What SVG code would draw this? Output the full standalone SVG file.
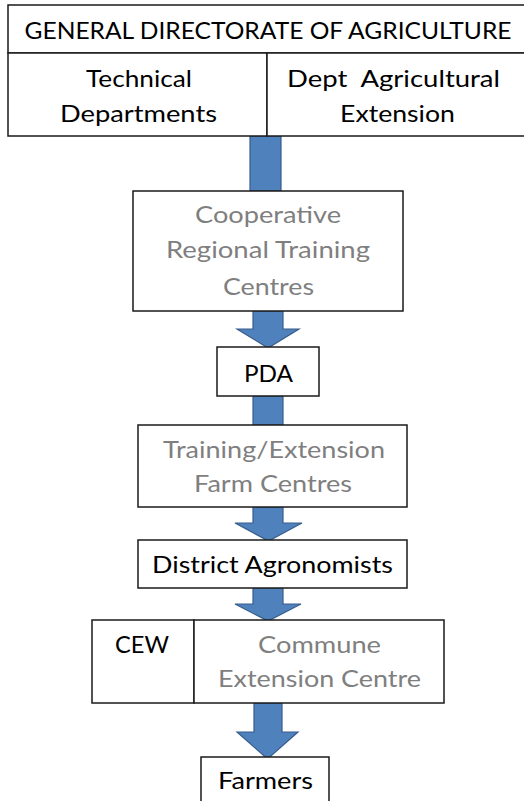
<svg xmlns="http://www.w3.org/2000/svg" width="524" height="801" viewBox="0 0 524 801">
<style>
.box{fill:#fff;stroke:#1a1a1a;stroke-width:1.5}
.arr{fill:#4f81bd;stroke:#385d8a;stroke-width:1.2}
text{font-family:Lato,"Liberation Sans",sans-serif;font-size:23px;text-anchor:middle}
.k{fill:#000}
.g{fill:#7f7f7f}
</style>
<rect width="524" height="801" fill="#fff"/>
<g id="connectors">
<rect class="arr" x="250" y="136" width="31" height="55"/>
<polygon class="arr" points="253,311 283,311 283,329 299,329 268,348 237,329 253,329"/>
<rect class="arr" x="253" y="396" width="30" height="29"/>
<polygon class="arr" points="253,507 283,507 283,523 302,523 268.5,541 235,523 253,523"/>
<polygon class="arr" points="253,588 283,588 283,604 301,604 268,621 235,604 253,604"/>
<polygon class="arr" points="254,703 282,703 282,732 298,732 267.5,759 237,732 254,732"/>
</g>
<g id="gda">
<rect class="box" x="8" y="5" width="520" height="48"/>
<text class="k" x="268" y="39" textLength="487" lengthAdjust="spacingAndGlyphs">GENERAL DIRECTORATE OF AGRICULTURE</text>
</g>
<g id="tech">
<rect class="box" x="8" y="53" width="259" height="83"/>
<text class="k" x="139" y="87" textLength="106" lengthAdjust="spacingAndGlyphs">Technical</text>
<text class="k" x="138.5" y="122" textLength="157" lengthAdjust="spacingAndGlyphs">Departments</text>
</g>
<g id="dae">
<rect class="box" x="267" y="53" width="261" height="83"/>
<text class="k" x="393.5" y="87" textLength="213" lengthAdjust="spacingAndGlyphs" xml:space="preserve">Dept  Agricultural</text>
<text class="k" x="397.5" y="122" textLength="115" lengthAdjust="spacingAndGlyphs">Extension</text>
</g>
<g id="crtc">
<rect class="box" x="133" y="191" width="270" height="120"/>
<text class="g" x="268" y="223" textLength="146" lengthAdjust="spacingAndGlyphs">Cooperative</text>
<text class="g" x="268" y="258" textLength="204" lengthAdjust="spacingAndGlyphs">Regional Training</text>
<text class="g" x="268.5" y="295" textLength="91" lengthAdjust="spacingAndGlyphs">Centres</text>
</g>
<g id="pda">
<rect class="box" x="217" y="347" width="102" height="49"/>
<text class="k" x="268.5" y="382" textLength="49" lengthAdjust="spacingAndGlyphs">PDA</text>
</g>
<g id="tefc">
<rect class="box" x="138" y="425" width="269" height="82"/>
<text class="g" x="274" y="458" textLength="222" lengthAdjust="spacingAndGlyphs">Training/Extension</text>
<text class="g" x="273" y="492" textLength="158" lengthAdjust="spacingAndGlyphs">Farm Centres</text>
</g>
<g id="district">
<rect class="box" x="138" y="540" width="269" height="48"/>
<text class="k" x="272.5" y="573" textLength="241" lengthAdjust="spacingAndGlyphs">District Agronomists</text>
</g>
<g id="cew">
<rect class="box" x="92" y="620" width="102" height="83"/>
<text class="k" x="142" y="653" textLength="54" lengthAdjust="spacingAndGlyphs">CEW</text>
</g>
<g id="commune">
<rect class="box" x="194" y="620" width="250" height="83"/>
<text class="g" x="319.5" y="653" textLength="123" lengthAdjust="spacingAndGlyphs">Commune</text>
<text class="g" x="319.5" y="687" textLength="203" lengthAdjust="spacingAndGlyphs">Extension Centre</text>
</g>
<g id="farmers">
<rect class="box" x="201" y="757" width="128" height="60"/>
<text class="k" x="265.5" y="789" textLength="95" lengthAdjust="spacingAndGlyphs">Farmers</text>
</g>
</svg>
